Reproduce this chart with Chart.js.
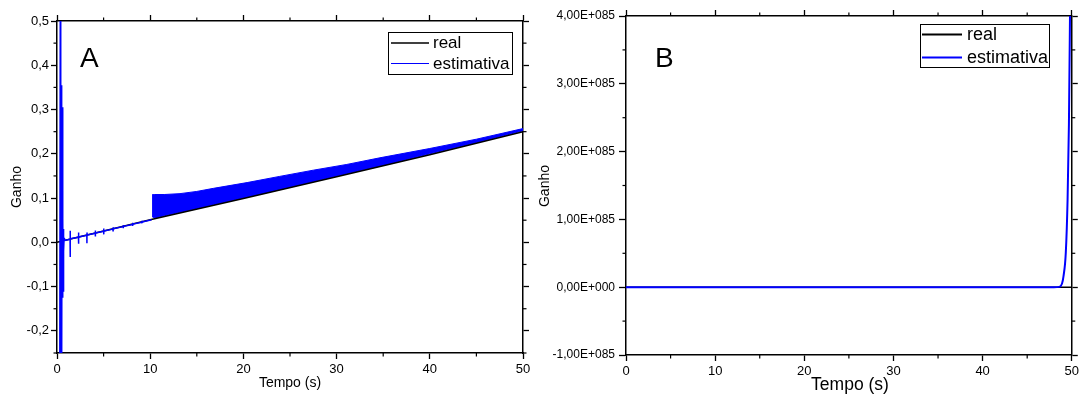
<!DOCTYPE html>
<html><head><meta charset="utf-8">
<script src="https://cdn.jsdelivr.net/npm/chart.js@4.4.1/dist/chart.umd.min.js"></script>
<style>
html,body{margin:0;padding:0;background:#fff;}
#wrap{position:relative;width:1082px;height:394px;background:#fff;}
canvas{position:absolute;top:0;}
</style></head><body>
<div id="wrap"><canvas id="cA" width="541" height="394" style="left:0"></canvas><canvas id="cB" width="552" height="394" style="left:530px"></canvas></div>
<script>
// ---------- shared text ----------
const seriesNames = ['real', 'estimativa'];
const panelLetters = ['A', 'B'];
const xTitle = 'Tempo (s)';
const yTitle = 'Ganho';

// ---------- Panel A data ----------
const realTA = [0, 10, 20, 30, 40, 50];
const realYA = [0.0, 0.051, 0.099, 0.148, 0.198, 0.25];
const estTA = [0.30, 0.35, 0.40, 0.45, 0.50, 0.55, 0.60, 0.63, 0.66, 0.69, 0.72, 0.76, 0.80,
  1.40, 1.41, 1.42, 1.43, 2.30, 2.31, 2.32, 2.33, 3.20, 3.21, 3.22, 3.23,
  4.10, 4.11, 4.12, 4.13, 5.00, 5.01, 5.02, 5.03, 6.00, 6.01, 6.02, 6.03,
  7.10, 7.11, 7.12, 7.13, 8.10, 8.11, 8.12, 8.13, 9.10, 9.11, 9.12, 9.13, 10.15];
const estYA = [-0.3, 0.5, -0.3, 0.355, -0.3, 0.305, -0.125, 0.055, -0.11, 0.03, -0.02, 0.01, 0.004,
  0.007, -0.033, 0.026, 0.008, 0.0115, -0.003, 0.022, 0.012, 0.016, -0.002, 0.022, 0.0165,
  0.0205, 0.013, 0.027, 0.021, 0.025, 0.018, 0.031, 0.0255, 0.030, 0.026, 0.034, 0.0305,
  0.0355, 0.032, 0.039, 0.036, 0.0405, 0.037, 0.044, 0.041, 0.0455, 0.043, 0.049, 0.046, 0.051];
const bandTA = [10.2, 10.5, 11.5, 13.2, 15.0, 16.8, 20.4, 23.9, 27.5, 31.1, 34.65, 40, 45, 50];
const bandTopA = [0.1075, 0.108, 0.108, 0.110, 0.115, 0.122, 0.135, 0.149, 0.163, 0.176, 0.191, 0.212, 0.233, 0.257];
const bandBotA = [0.058, 0.055, 0.06, 0.068, 0.076, 0.085, 0.102, 0.119, 0.137, 0.155, 0.172, 0.2, 0.225, 0.252];
const xTicksA = [0, 10, 20, 30, 40, 50];
const xLabelsA = ['0', '10', '20', '30', '40', '50'];
const xMinorA = [5, 15, 25, 35, 45];
const yTicksA = [-0.2, -0.1, 0, 0.1, 0.2, 0.3, 0.4, 0.5];
const yLabelsA = ['-0,2', '-0,1', '0,0', '0,1', '0,2', '0,3', '0,4', '0,5'];
const yMinorA = [-0.25, -0.15, -0.05, 0.05, 0.15, 0.25, 0.35, 0.45];

// ---------- Panel B data ----------
const realTB = [0, 50];
const realYB = [0, 0];
const estTB = [0, 10, 20, 30, 40, 48.0, 48.6, 48.9, 49.07, 49.33, 49.53, 49.68, 49.8, 49.9];
const estYB = [0, 0, 0, 0, 0, 0, 0.005e85, 0.05e85, 0.16e85, 0.51e85, 1.29e85, 2.4e85, 4.0e85, 5.5e85];
const xTicksB = [0, 10, 20, 30, 40, 50];
const xLabelsB = ['0', '10', '20', '30', '40', '50'];
const xMinorB = [5, 15, 25, 35, 45];
const yTicksB = [-1e85, 0, 1e85, 2e85, 3e85, 4e85];
const yLabelsB = ['-1,00E+085', '0,00E+000', '1,00E+085', '2,00E+085', '3,00E+085', '4,00E+085'];
const yMinorB = [-0.5e85, 0.5e85, 1.5e85, 2.5e85, 3.5e85];

// ---------- helpers ----------
const FONT = '"Liberation Sans", Arial, sans-serif';
const BLUE = '#0000FF';
const pts = (xs, ys) => xs.map((x, i) => ({x: x, y: ys[i]}));

function axis(pos, min, max, ticks, labels, fitSize, tickLen, pad, fontSize, showLabels) {
  const horiz = (pos === 'top' || pos === 'bottom');
  return {
    type: 'linear', position: pos, min: min, max: max,
    afterBuildTicks: s => { s.ticks = ticks.map(v => ({value: v})); },
    afterFit: s => { if (horiz) s.height = fitSize; else s.width = fitSize; },
    ticks: {
      display: showLabels, autoSkip: false, maxRotation: 0, padding: pad,
      color: '#000', font: {family: FONT, size: fontSize},
      callback: (v, i) => labels[i]
    },
    grid: {drawOnChartArea: false, drawTicks: true, tickLength: tickLen, tickColor: '#000', tickWidth: 1.3},
    border: {display: true, color: '#000', width: 1.5}
  };
}

const decorPlugin = {
  id: 'decor',
  afterDraw(chart, args, o) {
    const ctx = chart.ctx, ca = chart.chartArea, sc = chart.scales;
    ctx.save();
    ctx.strokeStyle = '#000'; ctx.lineWidth = 1.2;
    const L = o.minorLen;
    o.xMinor.forEach(v => {
      const p = sc.x.getPixelForValue(v);
      ctx.beginPath(); ctx.moveTo(p, ca.bottom); ctx.lineTo(p, ca.bottom + L); ctx.stroke();
      ctx.beginPath(); ctx.moveTo(p, ca.top); ctx.lineTo(p, ca.top - L); ctx.stroke();
    });
    o.yMinor.forEach(v => {
      const p = sc.y.getPixelForValue(v);
      ctx.beginPath(); ctx.moveTo(ca.left, p); ctx.lineTo(ca.left - L, p); ctx.stroke();
      ctx.beginPath(); ctx.moveTo(ca.right, p); ctx.lineTo(ca.right + L, p); ctx.stroke();
    });
    ctx.fillStyle = '#000';
    ctx.textAlign = 'left'; ctx.textBaseline = 'alphabetic';
    ctx.font = o.letter.size + 'px ' + FONT;
    ctx.fillText(o.letter.text, o.letter.x, o.letter.y);
    ctx.textAlign = 'center'; ctx.textBaseline = 'middle';
    ctx.font = o.xt.size + 'px ' + FONT;
    ctx.fillText(xTitle, o.xt.x, o.xt.y);
    ctx.save();
    ctx.translate(o.yt.x, o.yt.y); ctx.rotate(-Math.PI / 2);
    ctx.font = o.yt.size + 'px ' + FONT;
    ctx.fillText(yTitle, 0, 0);
    ctx.restore();
    const lg = o.legend;
    ctx.fillStyle = '#fff';
    ctx.fillRect(lg.x, lg.y, lg.w, lg.h);
    ctx.strokeStyle = '#000'; ctx.lineWidth = 1;
    ctx.strokeRect(lg.x + 0.5, lg.y + 0.5, lg.w, lg.h);
    ctx.textAlign = 'left'; ctx.textBaseline = 'middle';
    ctx.font = lg.size + 'px ' + FONT;
    lg.rows.forEach(r => {
      ctx.strokeStyle = r.color; ctx.lineWidth = r.lw;
      ctx.beginPath(); ctx.moveTo(lg.x1, r.ly); ctx.lineTo(lg.x2, r.ly); ctx.stroke();
      ctx.fillStyle = '#000';
      ctx.fillText(r.label, lg.tx, r.ty);
    });
    ctx.restore();
  }
};

// ---------- Chart A ----------
new Chart(document.getElementById('cA'), {
  type: 'line',
  data: {
    datasets: [
      {label: seriesNames[1], data: pts(estTA, estYA), borderColor: BLUE, borderWidth: 1.5, pointRadius: 0, fill: false, tension: 0, order: 0},
      {label: 'bandTop', data: pts(bandTA, bandTopA), borderColor: BLUE, backgroundColor: BLUE, borderWidth: 1, pointRadius: 0, fill: '+1', tension: 0, order: 2},
      {label: 'bandBottom', data: pts(bandTA, bandBotA), borderColor: BLUE, borderWidth: 1, pointRadius: 0, fill: false, tension: 0, order: 2},
      {label: seriesNames[0], data: pts(realTA, realYA), borderColor: '#000', borderWidth: 1.5, pointRadius: 0, fill: false, tension: 0, order: 1}
    ]
  },
  options: {
    responsive: false, animation: false, devicePixelRatio: 1,
    layout: {padding: 0},
    scales: {
      x: axis('bottom', 0, 50, xTicksA, xLabelsA, 41, 6, 3, 13, true),
      x2: axis('top', 0, 50, xTicksA, xLabelsA, 21, 6, 0, 13, false),
      y: axis('left', -0.25, 0.5, yTicksA, yLabelsA, 57, 6, 2, 13, true),
      y2: axis('right', -0.25, 0.5, yTicksA, yLabelsA, 18, 6, 0, 13, false)
    },
    plugins: {
      legend: {display: false}, tooltip: {enabled: false},
      decor: {
        minorLen: 3.5, xMinor: xMinorA, yMinor: yMinorA,
        letter: {text: panelLetters[0], x: 80, y: 67, size: 28},
        xt: {x: 290, y: 383, size: 14},
        yt: {x: 17, y: 187, size: 14},
        legend: {x: 388, y: 32, w: 124, h: 42, x1: 391, x2: 429, tx: 433, size: 17,
          rows: [{label: seriesNames[0], color: '#000', lw: 1.5, ly: 43, ty: 43},
                 {label: seriesNames[1], color: BLUE, lw: 1, ly: 63.5, ty: 64.5}]}
      }
    }
  },
  plugins: [decorPlugin]
});

// ---------- Chart B ----------
new Chart(document.getElementById('cB'), {
  type: 'line',
  data: {
    datasets: [
      {label: seriesNames[1], data: pts(estTB, estYB), borderColor: BLUE, borderWidth: 2, pointRadius: 0, fill: false, cubicInterpolationMode: 'monotone', order: 0},
      {label: seriesNames[0], data: pts(realTB, realYB), borderColor: '#000', borderWidth: 1.5, pointRadius: 0, fill: false, tension: 0, order: 1}
    ]
  },
  options: {
    responsive: false, animation: false, devicePixelRatio: 1,
    layout: {padding: 0},
    scales: {
      x: axis('bottom', 0, 50, xTicksB, xLabelsB, 39, 6, 3, 13, true),
      x2: axis('top', 0, 50, xTicksB, xLabelsB, 16, 6, 0, 13, false),
      y: axis('left', -1e85, 4e85, yTicksB, yLabelsB, 96, 7, 4, 12, true),
      y2: axis('right', -1e85, 4e85, yTicksB, yLabelsB, 8, 6, 0, 12, false)
    },
    plugins: {
      legend: {display: false}, tooltip: {enabled: false},
      decor: {
        minorLen: 3.5, xMinor: xMinorB, yMinor: yMinorB,
        letter: {text: panelLetters[1], x: 125, y: 66.5, size: 28},
        xt: {x: 320, y: 385, size: 17.5},
        yt: {x: 15, y: 186, size: 14},
        legend: {x: 390, y: 24, w: 129, h: 43, x1: 392, x2: 432, tx: 437, size: 18,
          rows: [{label: seriesNames[0], color: '#000', lw: 2, ly: 34.5, ty: 35},
                 {label: seriesNames[1], color: BLUE, lw: 2, ly: 57.5, ty: 58.5}]}
      }
    }
  },
  plugins: [decorPlugin]
});
</script>
</body></html>
